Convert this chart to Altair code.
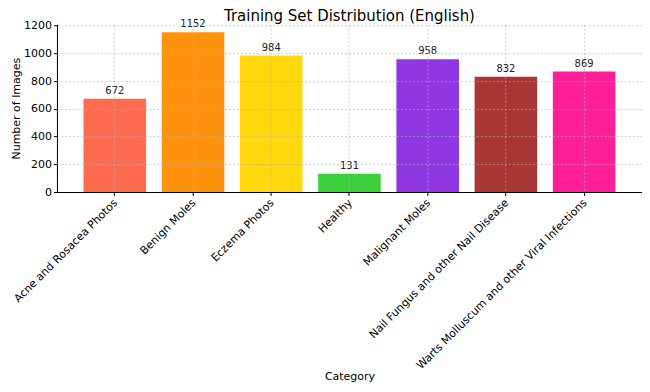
import altair as alt
import pandas as pd

categories = [
    "Acne and Rosacea Photos",
    "Benign Moles",
    "Eczema Photos",
    "Healthy",
    "Malignant Moles",
    "Nail Fungus and other Nail Disease",
    "Warts Molluscum and other Viral Infections",
]
counts = [672, 1152, 984, 131, 958, 832, 869]
colors = ["#FF6347", "#FF8C00", "#FFD700", "#32CD32", "#8A2BE2", "#A52A2A", "#FF1493"]
y_ticks = [0, 200, 400, 600, 800, 1000, 1200]

df = pd.DataFrame({"Category": categories, "Count": counts, "Color": colors})

FONT = "DejaVu Sans"

x = alt.X(
    "Category:N",
    sort=categories,
    scale=alt.Scale(paddingInner=0.2, paddingOuter=0.34),
    axis=alt.Axis(
        title="Category",
        grid=True,
        bandPosition=0.5,
        labelAngle=-45,
        labelAlign="right",
        labelBaseline="top",
        labelFontSize=11,
        labelLimit=400,
        labelOffset=-3,
        labelPadding=1,
        titleFontSize=11,
        titleFontWeight="normal",
        titleY=179,
        titleBaseline="top",
        tickSize=3.5,
        zindex=1,
    ),
)
y = alt.Y(
    "Count:Q",
    scale=alt.Scale(domain=[0, 1210], nice=False),
    axis=alt.Axis(
        title="Number of Images",
        values=y_ticks,
        format="d",
        labelFontSize=11,
        labelPadding=2,
        titleFontSize=11,
        titleFontWeight="normal",
        titleX=-37,
        titleBaseline="alphabetic",
        tickSize=3.5,
        zindex=1,
    ),
)

base = alt.Chart(df).encode(x=x, y=y)

bars = base.mark_bar(opacity=0.95).encode(color=alt.Color("Color:N", scale=None))

labels = base.mark_text(
    baseline="bottom", dy=-3, fontSize=10, font=FONT, color="#222222"
).encode(text=alt.Text("Count:Q"))

chart = (
    alt.layer(bars, labels)
    .properties(
        width=586,
        height=168,
        title=alt.TitleParams(
            "Training Set Distribution (English)",
            fontSize=15,
            fontWeight="normal",
            font=FONT,
            color="#000000",
            offset=0,
            dy=5,
        ),
        autosize=alt.AutoSizeParams(type="none"),
        padding={"left": 49, "top": 16, "right": 0, "bottom": 193},
    )
    .configure_view(stroke=None)
    .configure_axis(
        labelFont=FONT,
        titleFont=FONT,
        labelColor="#000000",
        titleColor="#000000",
        domainColor="#000000",
        tickColor="#000000",
        domainWidth=1,
        gridColor="#b0b0b0",
        gridDash=[2, 2],
        gridOpacity=0.8,
        gridWidth=0.8,
    )
)

chart.save("out.html", embed_options={"renderer": "svg", "actions": False})
